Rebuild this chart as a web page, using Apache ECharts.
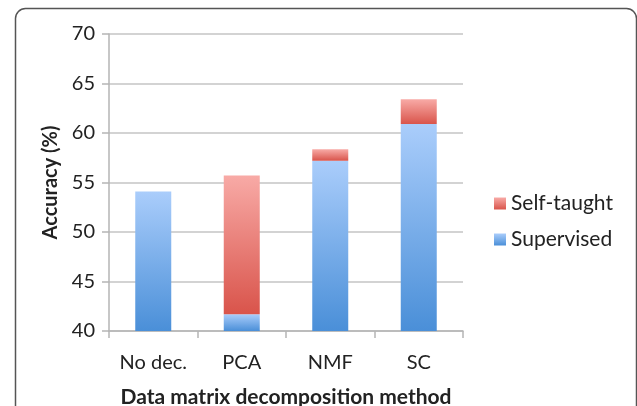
<!DOCTYPE html>
<html><head><meta charset="utf-8">
<script src="https://cdn.jsdelivr.net/npm/echarts@6/dist/echarts.min.js"></script>
<style>html,body{margin:0;padding:0;background:#fff}#c{width:637px;height:406px}</style>
</head><body><div id="c"></div>
<script>
const categories = ['No dec.', 'PCA', 'NMF', 'SC'];
const supervised = [54.1, 41.7, 57.2, 60.9];
const selfTaught = [0, 14.0, 1.15, 2.5];
const yTicks = [40, 45, 50, 55, 60, 65, 70];

const font = 'Lato, "Open Sans", sans-serif';
const chart = echarts.init(document.getElementById('c'));
const blue = new echarts.graphic.LinearGradient(0, 0, 0, 1, [
  {offset: 0, color: '#aacdfb'}, {offset: 1, color: '#4a8fd8'}]);
const red = new echarts.graphic.LinearGradient(0, 0, 0, 1, [
  {offset: 0, color: '#f8aaa6'}, {offset: 1, color: '#d9544b'}]);
chart.setOption({
  animation: false,
  textStyle: {fontFamily: font},
  graphic: [{
    type: 'rect', left: 13, top: 6, shape: {width: 621, height: 430, r: 10},
    style: {fill: 'none', stroke: '#555', lineWidth: 1.5}, silent: true
  }],
  grid: {left: 109, right: 174, top: 34, bottom: 75, containLabel: false, outerBoundsMode: 'none'},
  legend: {
    orient: 'vertical', left: 489, top: 188,
    data: ['Self-taught', 'Supervised'],
    icon: 'rect', itemWidth: 12, itemHeight: 12, itemGap: 15,
    textStyle: {fontSize: 21, color: '#222', fontFamily: font}
  },
  xAxis: {
    type: 'category', data: categories,
    name: 'Data matrix decomposition method', nameLocation: 'middle', nameGap: 56,
    nameTextStyle: {fontSize: 21, fontWeight: 'bold', color: '#222', fontFamily: font},
    axisLine: {lineStyle: {color: '#b5b5b5', width: 1.5}},
    axisTick: {show: true, length: 7, lineStyle: {color: '#b5b5b5', width: 1.5}},
    axisLabel: {fontSize: 20, color: '#222', margin: 22, fontFamily: font}
  },
  yAxis: {
    type: 'value', min: yTicks[0], max: yTicks[yTicks.length - 1], interval: 5,
    name: 'Accuracy (%)', nameLocation: 'middle', nameGap: 44,
    nameTextStyle: {fontSize: 20, fontWeight: 'bold', color: '#222', fontFamily: font},
    axisLine: {show: true, lineStyle: {color: '#b5b5b5', width: 1.5}},
    axisTick: {show: true, length: 7, lineStyle: {color: '#b5b5b5', width: 1.5}},
    axisLabel: {fontSize: 20, color: '#222', margin: 14, fontFamily: font},
    splitLine: {lineStyle: {color: '#c4c4c4', width: 1.5}}
  },
  series: [
    {name: 'Supervised', type: 'bar', stack: 'a', data: supervised, barWidth: 36,
     itemStyle: {color: blue}},
    {name: 'Self-taught', type: 'bar', stack: 'a', data: selfTaught, barWidth: 36,
     itemStyle: {color: red}}
  ]
});
</script></body></html>
